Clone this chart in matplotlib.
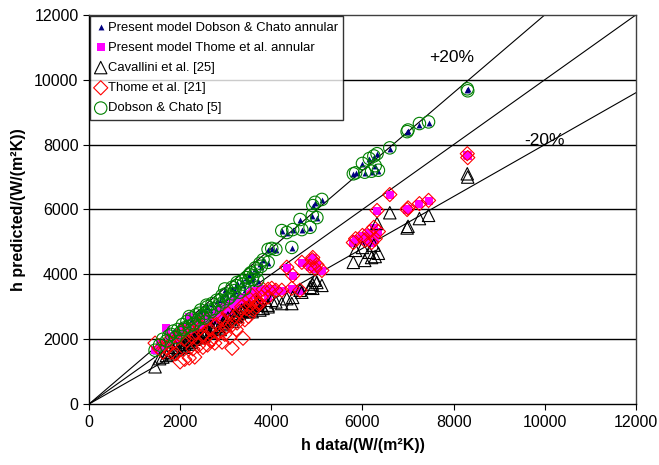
import matplotlib
matplotlib.use("Agg")
import matplotlib.pyplot as plt

plt.rcParams['font.family'] = ['Liberation Sans', 'DejaVu Sans']

# shared measured values (h data)
h_data = [8300, 8310, 7450, 7250, 7000, 6980, 6600, 6320, 6250, 6150, 6000, 5850, 6050, 6200, 6350, 5800, 6280,
          4960, 5110, 4910, 4900, 5000, 4630, 4850, 4670, 4470, 4230, 4340, 4450, 4010, 4100, 3930, 3930, 3750, 3820,
          1450, 1550, 1620, 1700, 1800, 1850, 1950, 2000, 2050, 2100, 2150, 2200, 2250, 2320, 2350, 2400, 2450, 2500,
          2550, 2600, 2650, 2700, 2760, 2800, 2850, 2920, 2950, 3000, 3090, 3140, 3200, 3250, 3300, 3380, 3450, 3500,
          3550, 3600, 3650, 3700,
          1750, 1900, 2080, 2280, 2420, 2580, 2680, 2880, 2980, 3050, 3150, 3230, 3350, 3420, 3520, 3580, 3680, 3780,
          2200, 2520]

present_dobson = [9680, 9700, 8680, 8620, 8430, 8380, 7880, 7700, 7620, 7560, 7400, 7110, 7140, 7160, 7190, 7080, 7330,
                  6200, 6290, 6100, 5800, 5730, 5670, 5430, 5360, 5360, 5330, 5270, 4810, 4780, 4750, 4750, 4350, 4320, 4430,
                  1640, 1800, 1980, 1930, 2130, 2230, 2280, 2180, 2430, 2330, 2530, 2380, 2630, 2480, 2730, 2580, 2880, 2680,
                  2780, 2980, 2880, 3080, 2930, 3180, 3030, 3330, 3130, 3380, 3280, 3580, 3480, 3730, 3430, 3680, 3880, 3780,
                  4030, 3930, 4180, 3800,
                  2080, 2030, 2280, 2430, 2780, 3030, 2830, 3180, 3530, 3230, 3380, 3630, 3780, 3530, 3980, 3830, 4080, 4230,
                  2680, 2630]

present_thome = [7680, 7640, 6270, 6170, 6030, 5990, 6440, 5950, 5430, 5290, 5180, 5090, 5030, 4960, 5300, 4960, 5080,
                 4160, 4100, 4500, 4430, 4280, 3490, 4230, 4350, 3950, 3490, 4200, 3550, 3550, 3490, 3520, 3280, 3080, 3520,
                 1660, 1850, 1750, 2340, 1900, 2100, 2200, 2050, 2350, 2280, 2250, 2300, 2400, 2200, 2550, 2400, 2650, 2450,
                 2500, 2600, 2550, 2700, 2600, 2900, 2700, 2800, 3000, 2900, 2850, 3140, 3100, 3000, 3200, 3250, 3300, 3150,
                 3400, 3350, 3500, 3450,
                 2100, 2000, 2280, 2150, 2650, 2750, 2500, 2950, 2800, 3050, 2900, 2950, 3300, 3100, 3400, 3500, 3350, 3550,
                 2700, 2550]

cavallini = [7100, 7000, 5820, 5720, 5480, 5430, 5900, 5570, 4900, 4680, 4830, 4740, 4430, 4520, 4650, 4370, 4550,
             3820, 3660, 3570, 3700, 3750, 3510, 3600, 3450, 3290, 3100, 3250, 3100, 3200, 3150, 3050, 3000, 2900, 2950,
             1150, 1400, 1450, 1500, 1550, 1650, 1700, 1750, 1800, 1850, 1900, 1950, 1900, 2000, 2050, 2100, 2100, 2150,
             2200, 2250, 2200, 2300, 2350, 2400, 2350, 2450, 2500, 2550, 2600, 2550, 2700, 2750, 2800, 2850, 2900, 2850,
             2950, 3000, 3050, 3100,
             1600, 1750, 1750, 2000, 2050, 2250, 2400, 2300, 2600, 2650, 2750, 2700, 2900, 2950, 3000, 2850, 3150, 3050,
             1850, 2100]

thome = [7720, 7600, 6280, 6180, 6050, 6000, 6460, 5970, 5450, 5300, 5200, 5100, 5050, 4980, 5320, 4980, 5100,
         4180, 4120, 4520, 4450, 4300, 3510, 4250, 4370, 3970, 3510, 4220, 3570, 3570, 3510, 3540, 3300, 3100, 3540,
         1880, 1700, 1600, 1750, 1600, 1900, 2050, 1300, 2250, 1380, 1950, 1420, 2100, 1450, 2200, 1800, 2350, 1750,
         2050, 1820, 2300, 2000, 1880, 2450, 2200, 1910, 2600, 2350, 2060, 1720, 2700, 2500, 2850, 2030, 2950, 2700,
         3050, 2900, 3200, 3100,
         1950, 1550, 2000, 1700, 2450, 2600, 1950, 2650, 2150, 2800, 2450, 2300, 3000, 2600, 3250, 3350, 3000, 3300,
         2300, 2150]

dobson = [9720, 9660, 8700, 8650, 8450, 8400, 7900, 7720, 7650, 7570, 7420, 7130, 7150, 7180, 7210, 7100, 7350,
          6220, 6310, 6120, 5820, 5750, 5690, 5450, 5380, 5380, 5350, 5290, 4830, 4800, 4770, 4770, 4370, 4340, 4450,
          1660, 1820, 2000, 1950, 2150, 2250, 2300, 2200, 2450, 2350, 2550, 2400, 2650, 2500, 2750, 2600, 2900, 2700,
          2800, 3000, 2900, 3100, 2950, 3200, 3050, 3350, 3150, 3400, 3300, 3600, 3500, 3750, 3450, 3700, 3900, 3800,
          4050, 3950, 4200, 3820,
          2100, 2050, 2300, 2450, 2800, 3050, 2850, 3200, 3550, 3250, 3400, 3650, 3800, 3550, 4000, 3850, 4100, 4250,
          2700, 2650]

ratio_lines = [1.0, 1.2, 0.8]
ticks = [0, 2000, 4000, 6000, 8000, 10000, 12000]

fig = plt.figure(figsize=(6.59, 4.65), dpi=100)
ax = fig.add_axes([0.135, 0.131, 0.830, 0.837])
ax.set_xlim(0, 12000)
ax.set_ylim(0, 12000)

for t in ticks[1:-1]:
    ax.axhline(t, color='black', lw=1.0, zorder=1)
for r in ratio_lines:
    ax.axline((0, 0), slope=r, color='black', lw=0.8, zorder=2)

ax.scatter(h_data, present_dobson, marker='^', s=18, color='#000080', lw=0,
           label='Present model Dobson & Chato annular', zorder=3)
ax.scatter(h_data, present_thome, marker='s', s=26, color='#FF00FF', lw=0,
           label='Present model Thome et al. annular', zorder=4)
ax.scatter(h_data, cavallini, marker='^', s=80, facecolors='none', edgecolors='black', lw=0.8,
           label='Cavallini et al. [25]', zorder=5)
ax.scatter(h_data, thome, marker='D', s=52, facecolors='none', edgecolors='#FF0000', lw=0.8,
           label='Thome et al. [21]', zorder=6)
ax.scatter(h_data, dobson, marker='o', s=80, facecolors='none', edgecolors='#008000', lw=0.8,
           label='Dobson & Chato [5]', zorder=7)

ax.text(7950, 10680, '+20%', fontsize=12.5, ha='center', va='center')
ax.text(10000, 8120, '-20%', fontsize=12.5, ha='center', va='center')

ax.set_xticks(ticks)
ax.set_yticks(ticks)
ax.tick_params(direction='out', length=4, width=0.8, labelsize=11.5)
for sp in ax.spines.values():
    sp.set_color('#404040')
    sp.set_linewidth(1.0)
ax.spines['left'].set_color('black')
ax.spines['bottom'].set_color('black')

ax.set_xlabel('h data/(W/(m²K))', fontsize=11.5, fontweight='bold', labelpad=6)
ax.set_ylabel('h predicted/(W/(m²K))', fontsize=11.5, fontweight='bold', labelpad=6)

leg = ax.legend(loc='upper left', fontsize=9.4, frameon=True, fancybox=False,
                borderaxespad=0.1, labelspacing=0.62, handletextpad=0.15,
                handlelength=0.8, borderpad=0.4, scatterpoints=1)
leg.get_frame().set_edgecolor('black')
leg.get_frame().set_linewidth(1.0)
leg.set_zorder(10)

fig.savefig('out.png', dpi=100)
